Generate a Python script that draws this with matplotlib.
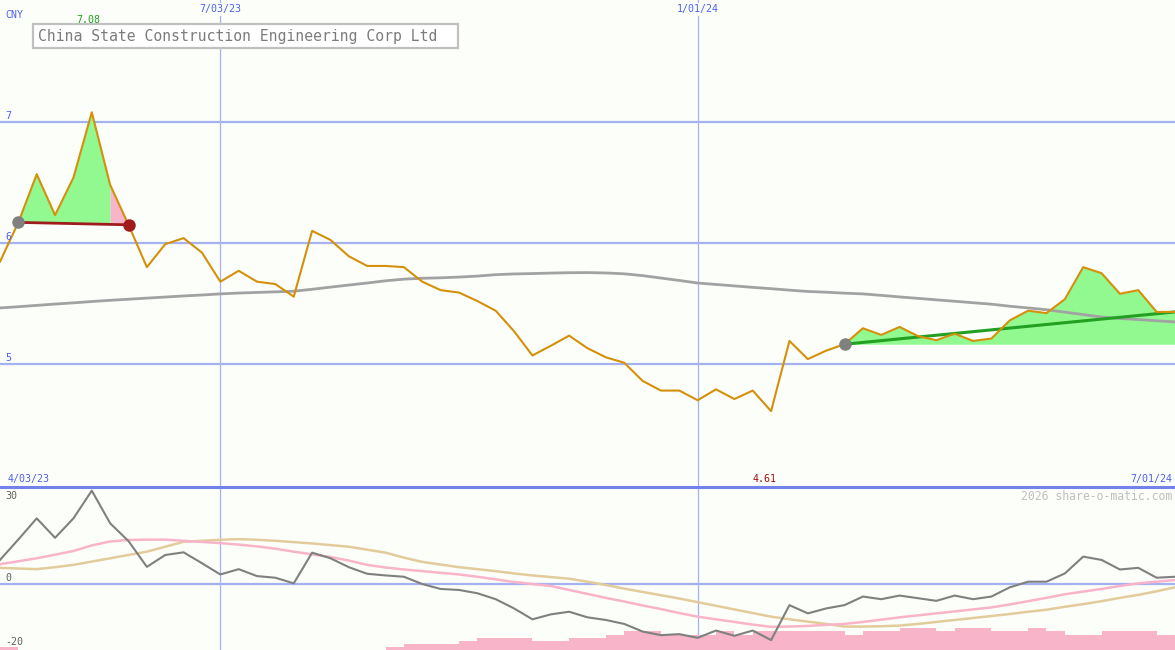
import matplotlib
matplotlib.use('Agg')
import matplotlib.pyplot as plt
from matplotlib.lines import Line2D
from matplotlib.patches import Rectangle
import numpy as np
import pandas as pd

# ---------------- data ----------------
dates = pd.date_range('2023-04-10', periods=65, freq='7D')

price = [5.845, 6.17, 6.568, 6.23, 6.54, 7.08, 6.48, 6.15, 5.80, 5.99,
         6.04, 5.92, 5.68, 5.77, 5.68, 5.66, 5.556, 6.10, 6.025, 5.89,
         5.81, 5.81, 5.80, 5.68, 5.61, 5.59, 5.52, 5.44, 5.27, 5.07,
         5.15, 5.234, 5.13, 5.055, 5.01, 4.86, 4.78, 4.78, 4.70, 4.79,
         4.71, 4.78, 4.61, 5.19, 5.04, 5.11, 5.163, 5.295, 5.24, 5.306,
         5.23, 5.196, 5.25, 5.19, 5.21, 5.36, 5.44, 5.42, 5.535, 5.80,
         5.75, 5.58, 5.61, 5.43, 5.43]

ma_long = [5.463, 5.473, 5.484, 5.495, 5.505, 5.516, 5.526, 5.535, 5.544, 5.553,
           5.562, 5.570, 5.579, 5.586, 5.591, 5.596, 5.601, 5.617, 5.635, 5.652,
           5.669, 5.687, 5.701, 5.708, 5.712, 5.718, 5.726, 5.738, 5.744, 5.747,
           5.751, 5.754, 5.755, 5.752, 5.745, 5.730, 5.710, 5.690, 5.669, 5.657,
           5.645, 5.633, 5.622, 5.610, 5.599, 5.593, 5.585, 5.579, 5.567, 5.554,
           5.542, 5.530, 5.518, 5.506, 5.494, 5.477, 5.463, 5.448, 5.428, 5.408,
           5.388, 5.376, 5.367, 5.357, 5.347]

osc = [7.3, 13.5, 19.9, 14.0, 19.9, 28.3, 18.4, 13.0, 5.2, 8.8,
       9.6, 6.3, 2.9, 4.5, 2.4, 1.9, 0.2, 9.5, 7.8, 5.1,
       3.1, 2.6, 2.2, 0.0, -1.5, -1.8, -2.8, -4.6, -7.4, -10.7,
       -9.2, -8.4, -10.1, -10.9, -12.1, -14.4, -15.5, -15.2, -16.3, -14.1,
       -15.7, -14.1, -17.0, -6.4, -8.9, -7.4, -6.4, -3.8, -4.6, -3.5,
       -4.3, -5.1, -3.5, -4.6, -3.8, -1.0, 0.7, 0.7, 3.2, 8.3,
       7.3, 4.4, 4.9, 1.9, 2.2]

osc_fast = [6.0, 6.9, 7.8, 8.9, 10.0, 11.7, 12.9, 13.35, 13.45, 13.45,
            13.1, 12.75, 12.4, 11.95, 11.4, 10.7, 9.8, 9.0, 8.2, 7.1,
            5.8, 5.0, 4.4, 3.9, 3.4, 2.9, 2.2, 1.4, 0.6, 0.0,
            -0.6, -1.8, -3.0, -4.2, -5.3, -6.5, -7.6, -8.8, -9.9, -10.7,
            -11.5, -12.3, -13.0, -12.9, -12.7, -12.4, -12.1, -11.5, -10.8, -10.1,
            -9.5, -8.9, -8.3, -7.7, -7.1, -6.2, -5.2, -4.2, -3.1, -2.3,
            -1.5, -0.6, 0.2, 0.7, 1.2]

osc_slow = [4.9, 4.7, 4.5, 5.1, 5.8, 6.8, 7.8, 8.8, 9.8, 11.3,
            12.8, 13.1, 13.4, 13.6, 13.4, 13.1, 12.7, 12.3, 11.8, 11.3,
            10.4, 9.5, 8.0, 6.7, 5.9, 5.1, 4.5, 3.9, 3.2, 2.6,
            2.1, 1.6, 0.7, -0.3, -1.4, -2.4, -3.4, -4.4, -5.5, -6.6,
            -7.7, -8.8, -9.9, -10.7, -11.4, -12.1, -12.9, -12.9, -12.8, -12.6,
            -12.1, -11.5, -10.9, -10.3, -9.7, -9.1, -8.4, -7.8, -6.9, -6.1,
            -5.2, -4.2, -3.3, -2.2, -1.0]

nan = np.nan
bar_top = [-19.2] + [nan] * 20 + [
    -19.0, -18.2, -18.2, -18.2, -17.3, -16.4, -16.4, -16.4, -17.3, -17.3,
    -16.4, -16.4, -15.5, -14.2, -14.2, -15.5, -15.5, -15.5, -14.2, -15.5,
    -14.2, -14.2, -14.2, -14.2, -14.2, -15.5, -14.2, -14.2, -13.2, -13.2,
    -14.2, -13.2, -13.2, -14.2, -14.2, -13.2, -14.2, -15.5, -15.5, -14.2,
    -14.2, -14.2, -15.5]

price_ticks = [5, 6, 7]
date_marks = ['2023-07-03', '2024-01-01']
date_labels = ['7/03/23', '1/01/24']
osc_ticks = [30, 0, -20]

pattern1 = (1, 7)        # double-top pattern start/end index
trend_start = 46
trend_end_value = 5.43

title = 'China State Construction Engineering Corp Ltd'
currency = 'CNY'
hi_label = '7.08'
lo_label = '4.61'
start_label = '4/03/23'
end_label = '7/01/24'
credit = '2026 share-o-matic.com'

# ---------------- styling ----------------
W, H = 1175, 650
BG = '#fcfefa'
GRID = '#a4b2f0'
BLUE_TXT = '#4f5ff0'
MONO = ['DejaVu Sans Mono']
SPLIT = 487  # pixel row of panel divider

fig = plt.figure(figsize=(W / 100, H / 100), dpi=100)
fig.patch.set_facecolor(BG)

ax = fig.add_axes([0, (H - SPLIT) / H, 1, SPLIT / H])
ax2 = fig.add_axes([0, 0, 1, (H - SPLIT - 1) / H])
for a in (ax, ax2):
    a.set_facecolor(BG)
    a.set_xlim(dates[0], dates[-1])
    for s in a.spines.values():
        s.set_visible(False)
    a.set_xticks([])
    a.set_yticks([])
ax.set_ylim(3.983, 8.008)
ax2.set_ylim(-20, 29.1)

# grid
for t in price_ticks:
    ax.axhline(t, color=GRID, lw=1.6, zorder=1)
ax2.axhline(0, color=GRID, lw=1.6, zorder=1)
for d in date_marks:
    ax.axvline(pd.Timestamp(d), color=GRID, lw=0.9, zorder=1)
    ax2.axvline(pd.Timestamp(d), color=GRID, lw=0.9, zorder=1)

# ---------- top panel ----------
p = np.array(price)
s, e = pattern1
base = np.linspace(p[s], p[e], e - s + 1)
ax.fill_between(dates[s:e], p[s:e], base[:-1], color='#92f890', lw=0, zorder=2)
ax.fill_between(dates[e - 1:e + 1], p[e - 1:e + 1], base[-2:], color='#f8b4c8', lw=0, zorder=2)

ax.fill_between(dates[trend_start:], p[trend_start:], p[trend_start],
                color='#92f890', lw=0, zorder=2)

ax.plot(dates, ma_long, color='#a2a2a2', lw=2.0, zorder=3)
ax.plot([dates[s], dates[e]], [p[s], p[e]], color='#a01c1c', lw=2.0, zorder=4)
ax.plot([dates[trend_start], dates[-1]], [p[trend_start], trend_end_value],
        color='#22a022', lw=2.2, zorder=4)
ax.plot(dates, price, color='#d4900a', lw=1.5, zorder=5)
ax.plot([dates[s]], [p[s]], 'o', ms=9, color='#808080', mec='none', zorder=6)
ax.plot([dates[e]], [p[e]], 'o', ms=9, color='#a01c1c', mec='none', zorder=6)
ax.plot([dates[trend_start]], [p[trend_start]], 'o', ms=9, color='#808080', mec='none', zorder=6)

# ---------- bottom panel ----------
bt = np.array(bar_top)
mask = ~np.isnan(bt)
ax2.bar(dates[:-1][mask], bt[mask] + 20, bottom=-20, width=7, align='edge',
        color='#f8b4c8', lw=0, zorder=2)
ax2.plot(dates, osc_slow, color='#e2cc9c', lw=1.8, zorder=3)
ax2.plot(dates, osc_fast, color='#f8b4c8', lw=1.8, zorder=3)
ax2.plot(dates, osc, color='#808080', lw=1.5, zorder=4)

# divider
fig.add_artist(Line2D([0, 1], [(H - SPLIT) / H] * 2, color='#7282ea', lw=2.2))


def px_text(x, y, s, **kw):
    kw.setdefault('family', MONO)
    return fig.text(x / W, 1 - y / H, s, **kw)


# text labels
px_text(5, 15, currency, fontsize=7.2, color=BLUE_TXT, va='center')
px_text(88, 20, hi_label, fontsize=7.2, color='#22a022', ha='center', va='center')
for d, lab in zip(date_marks, date_labels):
    xpx = (pd.Timestamp(d) - dates[0]) / (dates[-1] - dates[0]) * W
    px_text(xpx, 9, lab, fontsize=7.2, color=BLUE_TXT, ha='center', va='center',
            bbox=dict(boxstyle='square,pad=0.15', fc=BG, ec='none'))
for t in price_ticks:
    ypx = (8.008 - t) / (8.008 - 3.983) * SPLIT
    px_text(5, ypx - 6, str(t), fontsize=7.2, color=BLUE_TXT, va='center')

px_text(8, 479, start_label, fontsize=7.2, color=BLUE_TXT, va='center')
px_text(765, 479, lo_label, fontsize=7.2, color='#a01010', ha='center', va='center')
px_text(1172, 479, end_label, fontsize=7.2, color=BLUE_TXT, ha='right', va='center')
px_text(1172, 496, credit, fontsize=8.3, color='#c0c0c0', ha='right', va='center')

osc_label_y = {30: 496, 0: 578, -20: 642}
for t in osc_ticks:
    px_text(5, osc_label_y[t], str(t), fontsize=7.2, color='#606060', va='center')

# title box
fig.add_artist(Rectangle((33 / W, 1 - 48 / H), (458 - 33) / W, 24 / H,
                         transform=fig.transFigure, fc='white', ec='#c0c0c0', lw=1.6))
px_text(38, 36.5, title, fontsize=10.6, color='#7c7c7c', va='center')

fig.savefig('out.png', dpi=100, facecolor=BG)
